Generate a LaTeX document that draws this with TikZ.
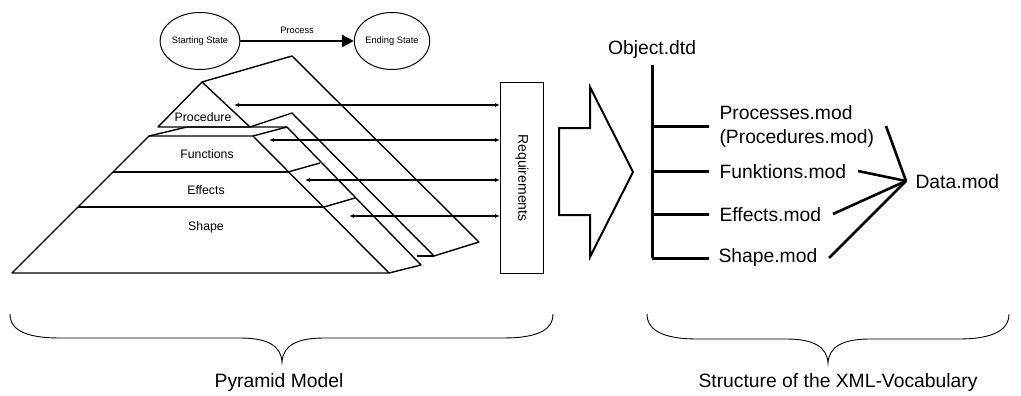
\documentclass[tikz,border=0pt]{standalone}
\usepackage{fontspec}
\setmainfont{Liberation Sans}
\usetikzlibrary{arrows.meta,shapes.geometric}

\begin{document}
\begin{tikzpicture}[
    x=1pt, y=-1pt,
    state/.style={ellipse, draw, line width=1pt, minimum width=68pt, minimum height=57pt, inner sep=0pt, font=\fontsize{9.3}{11}\selectfont},
    slab/.style={line width=1.4pt, line join=round},
    layer/.style={font=\fontsize{12.3}{14}\selectfont},
    link/.style={line width=1.5pt, {Latex[length=5pt,width=4pt]}-{Latex[length=5pt,width=4pt]}},
    big/.style={font=\fontsize{19.3}{24}\selectfont},
    tree/.style={line width=3pt},
    merge/.style={line width=2.6pt},
    brace/.style={line width=0.9pt}
]
    \useasboundingbox (0,0) rectangle (1021,396);

    % States and process
    \node[state] (start) at (200,41) {Starting State};
    \node[state] (end) at (392,41) {Ending State};
    \draw[line width=2.8pt, -{Triangle[length=12pt,width=12pt]}] (start) -- (end)
        node[midway, above=3pt, font=\fontsize{9.3}{11}\selectfont] {Process};

    % Pyramid coordinates
    \coordinate (top) at (202,82);
    \coordinate (pl) at (158,127);
    \coordinate (pr) at (250,127);
    \coordinate (fl) at (149,136);
    \coordinate (fr) at (253,136);
    \coordinate (el) at (113,172);
    \coordinate (er) at (288,172);
    \coordinate (sl) at (78,207);
    \coordinate (sr) at (324,207);
    \coordinate (bl) at (12,273);
    \coordinate (br) at (389,273);

    % Back faces
    \draw[slab] (top) -- (292,56) -- (479,242) -- (434,256) -- (292,113) -- (pr);
    \draw[slab] (417,256) -- (434,256);
    \draw[slab] (fl) -- (187,127) -- (287,127) -- (421,265) -- (br);
    \draw[slab] (fr) -- (287,127);
    \draw[slab] (er) -- (320,163);
    \draw[slab] (sr) -- (355,198);

    % Front faces
    \draw[slab] (pl) -- (top) -- (pr) -- cycle;
    \draw[slab] (fl) -- (fr) -- (br) -- (bl) -- cycle;
    \draw[slab] (el) -- (er);
    \draw[slab] (sl) -- (sr);

    % Layer labels
    \node[layer] (proc) at (203,117) {Procedure};
    \node[layer] (func) at (207,154) {Functions};
    \node[layer] (eff) at (206,190) {Effects};
    \node[layer] (shp) at (206,227) {Shape};

    % Requirements
    \node[draw, line width=1pt, rotate=-90, minimum width=190pt, minimum height=43pt,
          font=\fontsize{14}{16}\selectfont] (req) at (522,178) {Requirements};

    \coordinate (a1) at (234,105);
    \coordinate (a2) at (269,140);
    \coordinate (a3) at (305,180);
    \coordinate (a4) at (349,216);
    \foreach \a in {a1,a2,a3,a4}
        \draw[link] (\a) -- (\a -| req.south);

    % Big arrow
    \draw[line width=2pt, line join=miter] (559,128) -- (590,128) -- (590,87) -- (633,172)
        -- (590,257) -- (590,215) -- (559,215) -- cycle;

    % Vocabulary tree
    \node[big] (obj) at (652,50) {Object.dtd};
    \coordinate (root) at (652,65);
    \coordinate (leaf) at (652,258);
    \draw[tree] (root) -- (leaf);

    \node[big, anchor=west, align=left] (pm) at (716,127) {Processes.mod\\(Procedures.mod)};
    \node[big, anchor=west] (fm) at (716,172) {Funktions.mod};
    \node[big, anchor=west] (em) at (716,215) {Effects.mod};
    \node[big, anchor=west] (sm) at (715,258) {Shape.mod};

    \draw[tree] (root |- 0,126) -- (709,126);
    \draw[tree] (root |- 0,171) -- (709,171);
    \draw[tree] (root |- 0,214) -- (709,214);
    \draw[tree] (leaf) -- (709,258);

    % Data module
    \node[big, anchor=west] (data) at (912,182) {Data.mod};
    \coordinate (hub) at (906,181);
    \draw[merge] (886,126) -- (hub);
    \draw[merge] (858,171) -- (hub);
    \draw[merge] (833,214) -- (hub);
    \draw[merge] (829,258) -- (hub);

    % Braces
    \coordinate (ltip) at (282,362);
    \coordinate (rtip) at (828,363);
    \draw[brace] (10,314) .. controls (10,332) and (30,338) .. (60,338) -- (240,338)
        .. controls (268,338) and (281,346) .. (ltip)
        .. controls (283,346) and (296,338) .. (324,338) -- (503,338)
        .. controls (533,338) and (553,332) .. (553,314);
    \draw[brace] (647,314) .. controls (647,332) and (667,339) .. (697,339) -- (786,339)
        .. controls (814,339) and (827,347) .. (rtip)
        .. controls (829,347) and (842,339) .. (870,339) -- (959,339)
        .. controls (989,339) and (1009,332) .. (1009,314);

    \node[big] (pyr) at (279,383) {Pyramid Model};
    \node[big] (voc) at (838,383) {Structure of the XML-Vocabulary};

\end{tikzpicture}
\end{document}
